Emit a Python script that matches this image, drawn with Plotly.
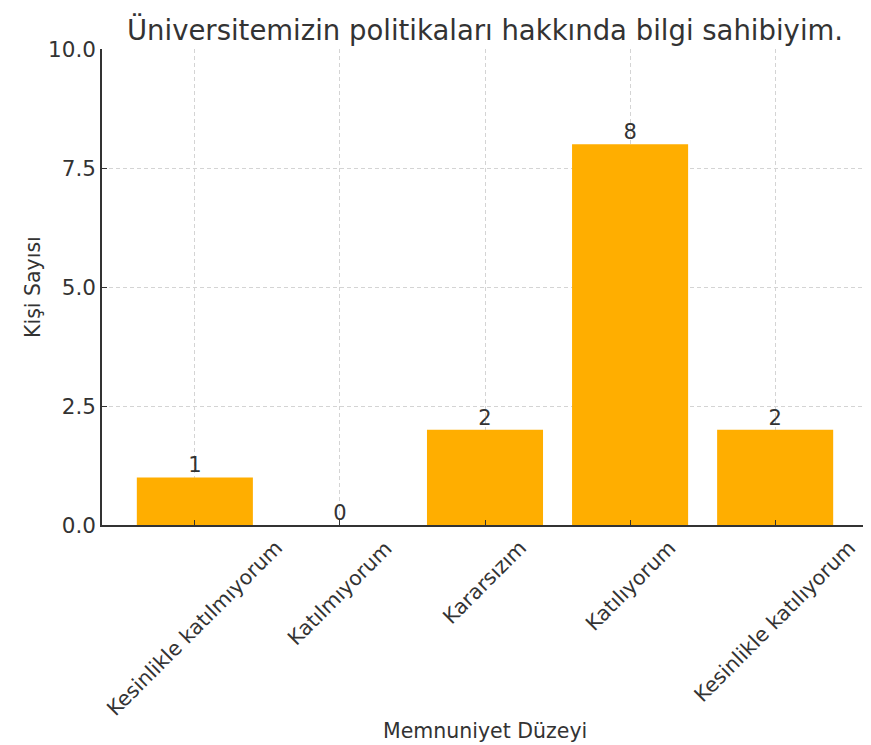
import plotly.graph_objects as go

categories = ["Kesinlikle katılmıyorum", "Katılmıyorum", "Kararsızım", "Katılıyorum", "Kesinlikle katılıyorum"]
counts = [1, 0, 2, 8, 2]
y_ticks = [0, 2.5, 5, 7.5, 10]
title_text = "Üniversitemizin politikaları hakkında bilgi sahibiyim."
x_title = "Memnuniyet Düzeyi"
y_title = "Kişi Sayısı"

FONT = "DejaVu Sans"
TXT = "#333333"
OFF = 8  # page body margin
W, H = 871 - OFF, 745 - OFF
# plot area in page pixels: x 102..868, y 49..525
L, R, T, B = 102 - OFF, W - (868 - OFF), 49 - OFF, H - (525 - OFF)

xs = list(range(len(categories)))

pw = W - L - R
ph = H - T - B
def px_x(p):  # page x -> paper
    return (p - OFF - L) / pw
def px_y(p):  # page y -> paper
    return 1 - (p - OFF - T) / ph

fig = go.Figure()
fig.add_trace(go.Bar(x=xs, y=counts, width=0.8, marker=dict(color="#FFAE00", line=dict(width=0)),
                     hoverinfo="skip"))
fig.add_trace(go.Scatter(x=xs, y=counts, mode="text", text=[str(c) for c in counts],
                         textposition="top center", textfont=dict(family=FONT, size=21, color=TXT),
                         hoverinfo="skip"))

annotations = []
for i, c in enumerate(categories):
    annotations.append(dict(x=i, y=0, xref="x", yref="y", text=c, showarrow=False, textangle=-45,
                            xanchor="center", yanchor="top", yshift=-8,
                            font=dict(family=FONT, size=20.5, color=TXT)))
annotations.append(dict(x=px_x(485), y=px_y(731), xref="paper", yref="paper", text=x_title, showarrow=False,
                        xanchor="center", yanchor="middle", font=dict(family=FONT, size=20.5, color=TXT)))
annotations.append(dict(x=px_x(33), y=px_y(287), xref="paper", yref="paper", text=y_title,
                        showarrow=False, textangle=-90, xanchor="center", yanchor="middle",
                        font=dict(family=FONT, size=20.5, color=TXT)))

shapes = [
    dict(type="rect", xref="paper", yref="paper", x0=px_x(869), x1=px_x(871), y0=px_y(745), y1=px_y(OFF),
         fillcolor="#f0f0f0", line=dict(width=0), layer="below"),
]

fig.update_layout(
    width=W, height=H,
    margin=dict(l=L, r=R, t=T, b=B, autoexpand=False),
    paper_bgcolor="white", plot_bgcolor="white",
    showlegend=False,
    title=dict(text=title_text, x=(485 - OFF) / W, xanchor="center", y=1 - (30 - OFF) / H, yanchor="middle",
               yref="container", font=dict(family=FONT, size=27.5, color=TXT)),
    font=dict(family=FONT, size=20, color=TXT),
    annotations=annotations,
    shapes=shapes,
    bargap=0.2,
)
grid = dict(showgrid=True, gridcolor="#d4d4d4", griddash="4px,3px", gridwidth=1,
            ticks="inside", ticklen=5, tickcolor=TXT, showline=True, linecolor=TXT, linewidth=1.5,
            zeroline=False, layer="above traces")
fig.update_xaxes(range=[-0.64, 4.64], tickmode="array", tickvals=xs, showticklabels=False, **grid)
fig.update_yaxes(range=[0, 10], tickmode="array", tickvals=y_ticks, tickformat=".1f",
                 tickfont=dict(family=FONT, size=21.5, color=TXT), **grid)

fig.write_html("out.html")
